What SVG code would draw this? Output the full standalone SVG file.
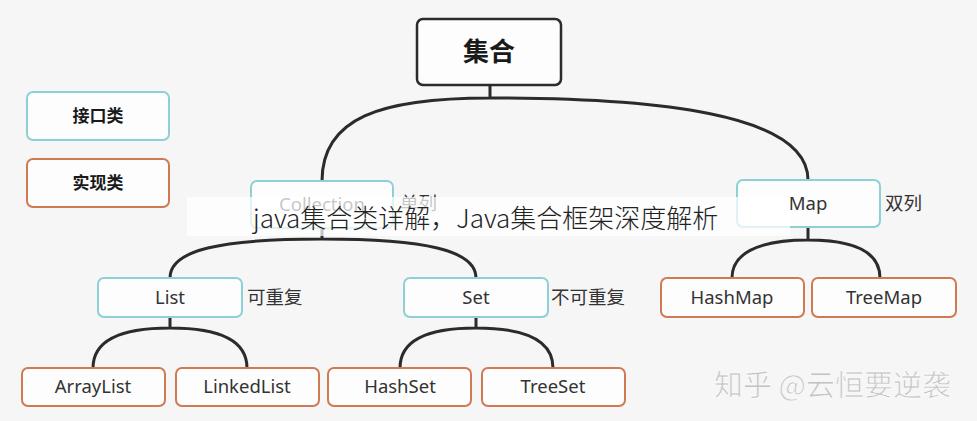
<svg xmlns="http://www.w3.org/2000/svg" width="977" height="421" viewBox="0 0 977 421">
<style>
.bg{fill:#f6f6f6}
.root{fill:#fdfdfd;stroke:#2b2b2b;stroke-width:2.5}
.if{fill:#fdfdfd;stroke:#8fcfd6;stroke-width:2}
.im{fill:#fdfdfd;stroke:#cf7a52;stroke-width:2}
.t{font-family:"Noto Sans","Noto Sans CJK SC",sans-serif;font-size:18.5px;fill:#333;text-anchor:middle}
.b{font-family:"Noto Sans CJK SC","Noto Sans",sans-serif;font-weight:bold;fill:#1a1a1a;text-anchor:middle}
.lab{font-family:"Noto Sans CJK SC","Noto Sans",sans-serif;font-size:18.5px;fill:#333}
.c{fill:none;stroke:#2b2b2b;stroke-width:3}
</style>
<rect class="bg" x="0" y="0" width="977" height="421"/>
<g id="connectors">
<path class="c" d="M490,85 V98 M490,98 C380,98 322,118 322,181 M490,98 C650,98 808,112 808,180"/>
<path class="c" d="M322,228 V239 M322,239 C220,239 170,250 170,278 M322,239 C424,239 476,250 476,278"/>
<path class="c" d="M808,227 V240 M808,240 C755,240 732,255 732,278 M808,240 C860,240 880,255 880,278"/>
<path class="c" d="M170,317 V328 M170,328 C112,328 93,345 93,368 M170,328 C228,328 247,345 247,368"/>
<path class="c" d="M476,317 V328 M476,328 C418,328 400,345 400,368 M476,328 C534,328 553,345 553,368"/>
</g>
<g id="root"><rect class="root" x="417" y="19" width="144" height="66" rx="6"/><text class="b" x="489" y="61" font-size="26">集合</text></g>
<g id="legend-interface"><rect class="if" x="27" y="92" width="142" height="48" rx="6"/><text class="b" x="98" y="122" font-size="17">接口类</text></g>
<g id="legend-impl"><rect class="im" x="27" y="159" width="142" height="48" rx="6"/><text class="b" x="98" y="189" font-size="17">实现类</text></g>
<g id="collection"><rect class="if" x="251" y="181" width="142" height="47" rx="6"/><text class="t" x="322" y="211">Collection</text><text class="lab" x="400" y="210">单列</text></g>
<g id="map"><rect class="if" x="737" y="180" width="143" height="47" rx="6"/><text class="t" x="808" y="210">Map</text><text class="lab" x="885" y="210">双列</text></g>
<g id="list"><rect class="if" x="98" y="278" width="144" height="39" rx="6"/><text class="t" x="170" y="304">List</text><text class="lab" x="247" y="304">可重复</text></g>
<g id="set"><rect class="if" x="404" y="278" width="144" height="39" rx="6"/><text class="t" x="476" y="304">Set</text><text class="lab" x="551" y="304">不可重复</text></g>
<g id="hashmap"><rect class="im" x="661" y="278" width="143" height="39" rx="6"/><text class="t" x="732" y="304">HashMap</text></g>
<g id="treemap"><rect class="im" x="812" y="278" width="144" height="39" rx="6"/><text class="t" x="884" y="304">TreeMap</text></g>
<g id="arraylist"><rect class="im" x="22" y="368" width="143" height="38" rx="6"/><text class="t" x="93" y="393">ArrayList</text></g>
<g id="linkedlist"><rect class="im" x="176" y="368" width="143" height="38" rx="6"/><text class="t" x="247" y="393">LinkedList</text></g>
<g id="hashset"><rect class="im" x="328" y="368" width="143" height="38" rx="6"/><text class="t" x="400" y="393">HashSet</text></g>
<g id="treeset"><rect class="im" x="482" y="368" width="143" height="38" rx="6"/><text class="t" x="553" y="393">TreeSet</text></g>
<text x="714" y="396" font-family="Noto Sans CJK SC,sans-serif" font-size="29" fill="#c4c4c4" stroke="#ffffff" stroke-width="0.6">知乎 @云恒要逆袭</text>
<g id="title">
<rect x="187" y="197" width="603" height="39" fill="#ffffff" fill-opacity="0.72"/>
<text x="253" y="228" font-family="Noto Sans CJK SC,sans-serif" font-weight="300" font-size="26" fill="#222">java集合类详解，Java集合框架深度解析</text>
</g>
</svg>
